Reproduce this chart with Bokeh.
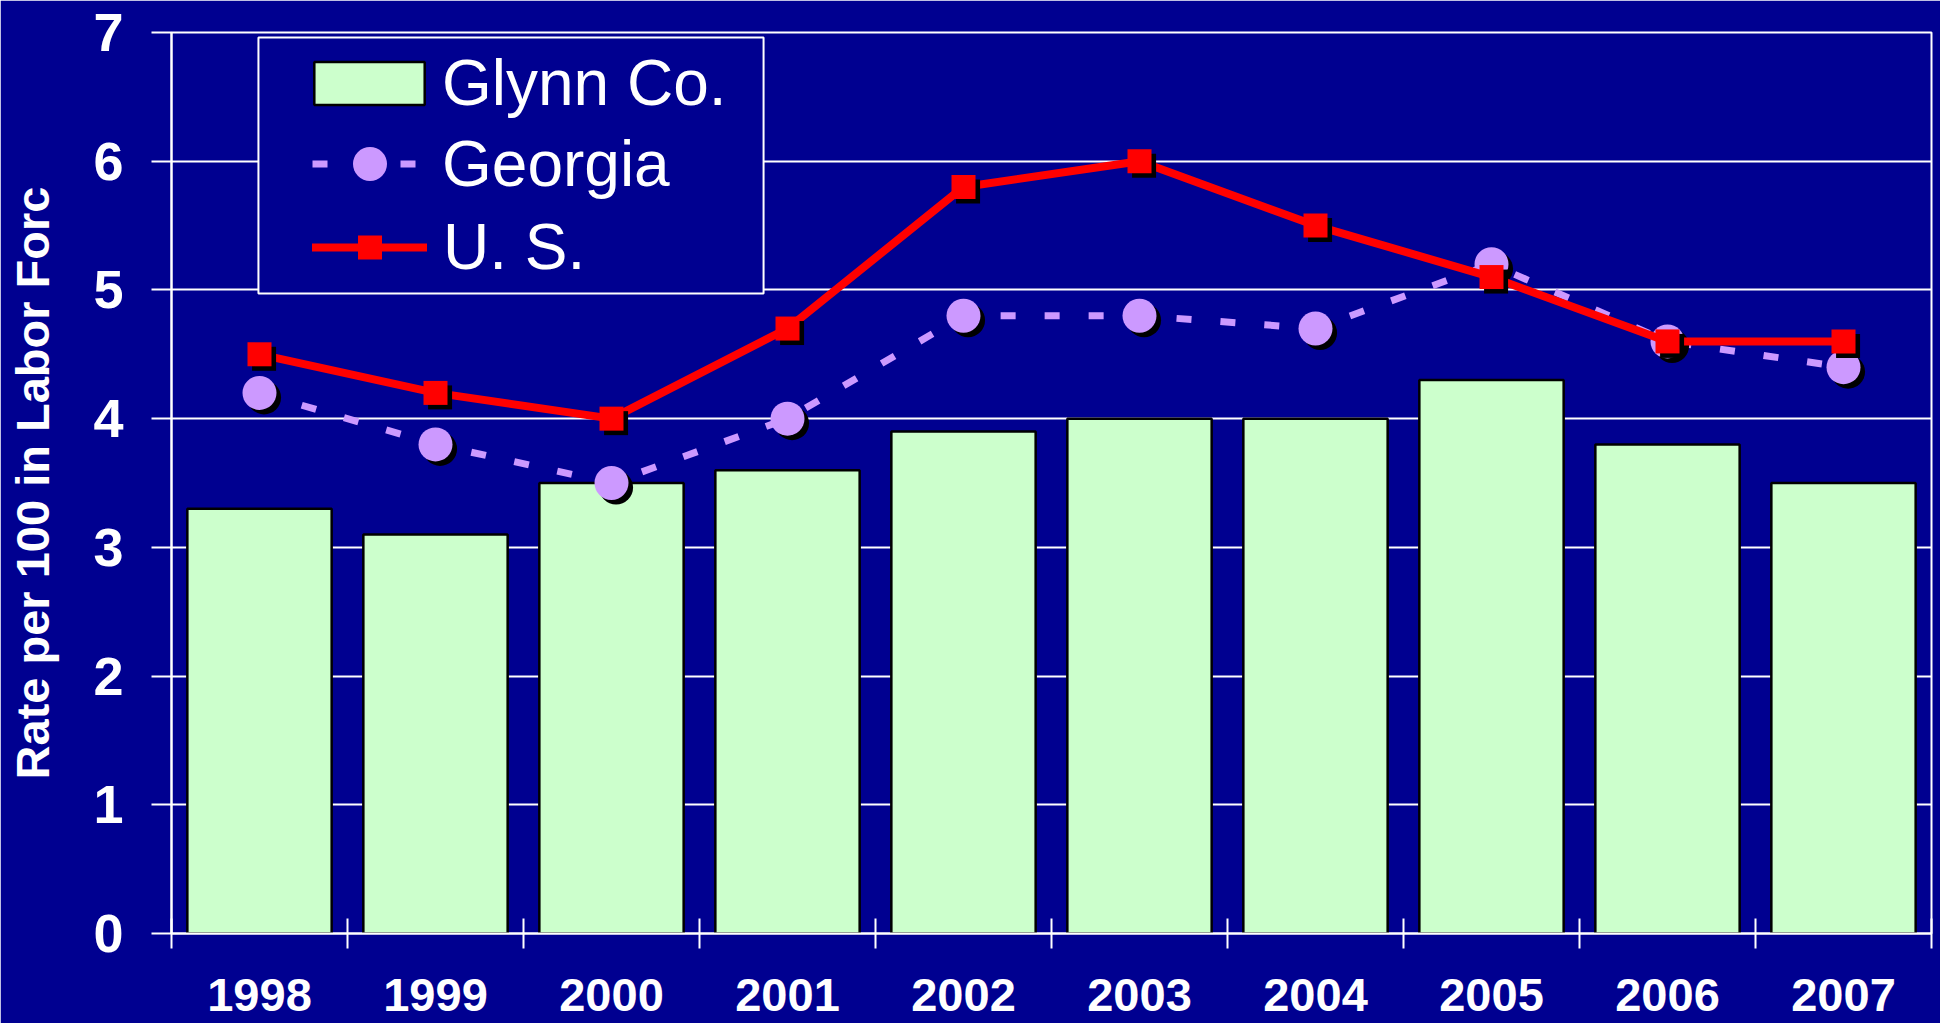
from bokeh.plotting import figure
from bokeh.models import (ColumnDataSource, Range1d, FixedTicker, Legend, LegendItem,
                          BoxAnnotation)
from bokeh.transform import dodge
from bokeh.embed import file_html
from bokeh.resources import INLINE

# ---------------- data ----------------
years = ["1998", "1999", "2000", "2001", "2002", "2003", "2004", "2005", "2006", "2007"]
glynn = [3.3, 3.1, 3.5, 3.6, 3.9, 4.0, 4.0, 4.3, 3.8, 3.5]
georgia = [4.2, 3.8, 3.5, 4.0, 4.8, 4.8, 4.7, 5.2, 4.6, 4.4]
us = [4.5, 4.2, 4.0, 4.7, 5.8, 6.0, 5.5, 5.1, 4.6, 4.6]
y_ticks = [0, 1, 2, 3, 4, 5, 6, 7]
series_names = ["Glynn Co.", "Georgia", "U. S."]
y_title = "Rate per 100 in Labor Forc"

# ---------------- styles ----------------
BG = "#000090"
BAR = "#CCFFCC"
LAV = "#CC99FF"
RED = "#FF0000"
FONT = "Liberation Sans"

n = len(years)
centers = [i + 0.5 for i in range(n)]          # category centres on a 0..n axis
bounds = list(range(n + 1))                     # category boundaries

src = ColumnDataSource(dict(x=centers, year=years, glynn=glynn, georgia=georgia, us=us))

p = figure(x_range=Range1d(0, n), y_range=Range1d(y_ticks[0], y_ticks[-1]),
           width=1940, height=1023, output_backend="svg", toolbar_location=None,
           min_border_left=171, min_border_right=9, min_border_top=32, min_border_bottom=90)
p.background_fill_color = BG
p.border_fill_color = BG
p.outline_line_color = "white"
p.outline_line_width = 2

p.xgrid.visible = False
p.ygrid.ticker = FixedTicker(ticks=y_ticks)
p.ygrid.grid_line_color = "white"
p.ygrid.grid_line_width = 2

# y axis
ya = p.yaxis[0]
ya.ticker = FixedTicker(ticks=y_ticks)
ya.axis_line_color = "white"
ya.axis_line_width = 2
ya.major_tick_line_color = "white"
ya.major_tick_line_width = 2
ya.major_tick_out = 20
ya.major_tick_in = 0
ya.minor_tick_out = 0
ya.minor_tick_in = 0
ya.major_label_text_font = FONT
ya.major_label_text_font_style = "bold"
ya.major_label_text_font_size = "54px"
ya.major_label_text_color = "white"
ya.major_label_standoff = 28
ya.axis_label = y_title
ya.axis_label_text_font = FONT
ya.axis_label_text_font_style = "bold"
ya.axis_label_text_font_size = "47px"
ya.axis_label_text_color = "white"
ya.axis_label_standoff = 31

# x axis: year labels at category centres, tick marks at category boundaries
xa = p.xaxis[0]
xa.ticker = FixedTicker(ticks=centers, minor_ticks=bounds)
xa.major_label_overrides = {c: y for c, y in zip(centers, years)}
xa.axis_line_color = "white"
xa.axis_line_width = 2
xa.major_tick_out = 0
xa.major_tick_in = 0
xa.major_tick_line_alpha = 0
xa.minor_tick_out = 15
xa.minor_tick_in = 15
xa.minor_tick_line_color = "white"
xa.minor_tick_line_width = 2
xa.major_label_text_font = FONT
xa.major_label_text_font_style = "bold"
xa.major_label_text_font_size = "47px"
xa.major_label_text_color = "white"
xa.major_label_standoff = 30

# ---------------- glyphs ----------------
bars = p.vbar(x="x", top="glynn", width=0.82, source=src,
              fill_color=BAR, line_color="black", line_width=2.5)

ga_line = p.line("x", "georgia", source=src, line_color=LAV, line_width=7,
                 line_dash="15 29", line_cap="butt")
p.scatter(x=dodge("x", 0.026), y=dodge("georgia", -0.035),
          source=src, marker="circle", size=34, fill_color="black", line_color=None)
ga_pts = p.scatter("x", "georgia", source=src, marker="circle", size=34,
                   fill_color=LAV, line_color=None)

us_line = p.line("x", "us", source=src, line_color=RED, line_width=8,
                 line_join="round", line_cap="round")
p.scatter(x=dodge("x", 0.026), y=dodge("us", -0.035),
          source=src, marker="square", size=24, fill_color="black", line_color=None)
us_pts = p.scatter("x", "us", source=src, marker="square", size=24,
                   fill_color=RED, line_color=None)

# ---------------- legend ----------------
box = BoxAnnotation(left=0.494, right=3.364, top=6.962, bottom=4.973,
                    fill_color=BG, fill_alpha=1,
                    line_color="white", line_width=2, line_alpha=1)
p.add_layout(box)


def make_legend(label, renderers, loc, gw, gh, standoff):
    return Legend(items=[LegendItem(label=label, renderers=renderers)],
                  location=loc, glyph_width=gw, glyph_height=gh,
                  label_standoff=standoff, padding=0, margin=0, spacing=0,
                  background_fill_alpha=0, border_line_alpha=0,
                  label_text_color="white", label_text_font=FONT,
                  label_text_font_size="64px")


p.add_layout(make_legend(series_names[0], [bars], (129, 813), 138, 54, 4), "center")
p.add_layout(make_legend(series_names[1], [ga_line, ga_pts], (141, 727), 115, 85, 15), "center")
p.add_layout(make_legend(series_names[2], [us_line, us_pts], (141, 649), 115, 60, 16), "center")

open("out.html", "w").write(file_html(p, INLINE))
